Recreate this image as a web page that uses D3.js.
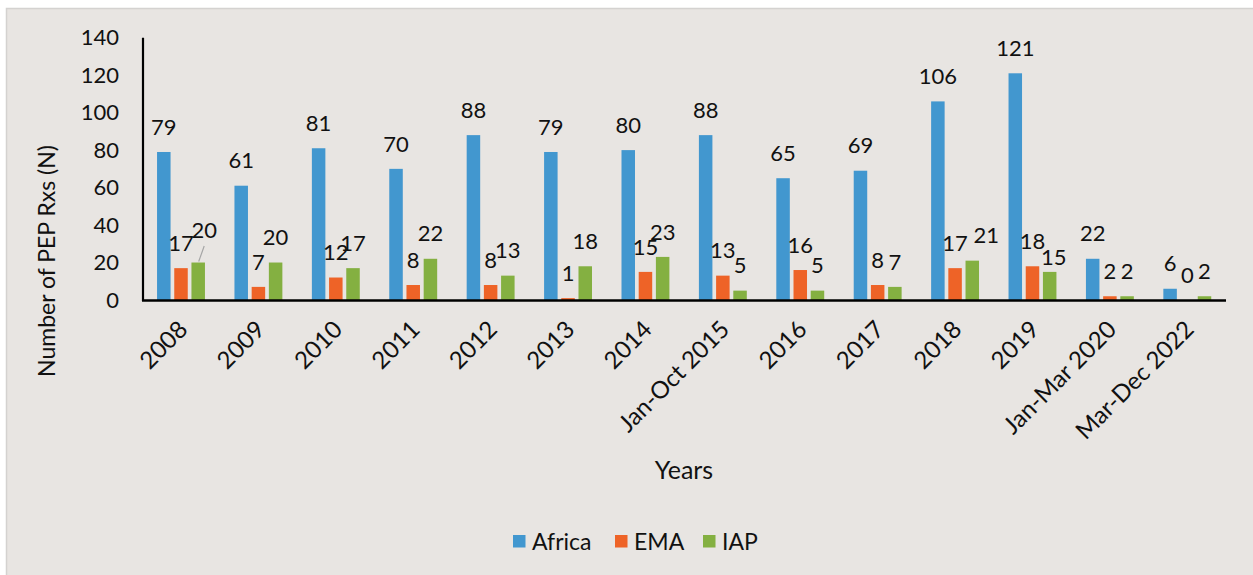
<!DOCTYPE html>
<html>
<head>
<meta charset="utf-8">
<script src="https://cdn.jsdelivr.net/npm/d3@7"></script>
<style>
  html, body { margin: 0; padding: 0; background: #ffffff; }
  svg { display: block; font-family: Lato, "Open Sans", sans-serif; }
</style>
</head>
<body>
<svg id="chart" width="1253" height="575"></svg>
<script>
// ---- data ----
const categories = ["2008","2009","2010","2011","2012","2013","2014","Jan-Oct 2015","2016","2017","2018","2019","Jan-Mar 2020","Mar-Dec 2022"];
const seriesNames = ["Africa","EMA","IAP"];
const africa = [79,61,81,70,88,79,80,88,65,69,106,121,22,6];
const ema    = [17,7,12,8,8,1,15,13,16,8,17,18,2,0];
const iap    = [20,20,17,22,13,18,23,5,5,7,21,15,2,2];
const yTicks = [0,20,40,60,80,100,120,140];
const colors = ["#4297CF","#EE6327","#84B041"];
const seriesValues = [africa, ema, iap];

// label nudges (Excel collision placement): [seriesIndex, categoryIndex, dx, dy, leader]
const labelNudges = [[2,0,6,-7.5,true],[2,10,14,0,false],[2,11,4,10,false]];

const svg = d3.select("#chart");

// chart frame
svg.append("rect").attr("x",6.5).attr("y",8.5).attr("width",1250).attr("height",570)
  .attr("fill","#E8E5E2").attr("stroke","#D4D2D0").attr("stroke-width",1.5);

const x = d3.scaleBand().domain(categories).range([142.3,1226]).paddingInner(0).paddingOuter(0);
const sub = d3.scaleBand().domain(seriesNames).range([-25.8,25.8]).paddingInner(0.215).paddingOuter(0.1075);
const y = d3.scaleLinear().domain([0,140]).range([300,37.7]);

const plot = svg.append("g");

// bars
seriesNames.forEach((s, si) => {
  plot.append("g").selectAll("rect").data(seriesValues[si]).join("rect")
    .attr("x",(d,i)=> x(categories[i]) + x.bandwidth()/2 + sub(s))
    .attr("y",d=> y(d))
    .attr("width",sub.bandwidth())
    .attr("height",d=> y(0)-y(d))
    .attr("fill",colors[si]);
});

// data labels
seriesNames.forEach((s, si) => {
  const g = plot.append("g");
  seriesValues[si].forEach((d,i) => {
    let cx = x(categories[i]) + x.bandwidth()/2 + sub(s) + sub.bandwidth()/2;
    let cy = y(d) - 25;
    const n = labelNudges.find(v => v[0]===si && v[1]===i);
    if (n) {
      if (n[4]) {
        g.append("line").attr("x1",cx+0.5).attr("y1",y(d)-1).attr("x2",cx+n[2]).attr("y2",cy+n[3]+16)
          .attr("stroke","#A6A6A6").attr("stroke-width",1.2);
      }
      cx += n[2]; cy += n[3];
    }
    g.append("text").attr("x",cx).attr("y",cy).attr("dy","0.35em")
      .attr("text-anchor","middle").attr("font-size",22).attr("fill","#111").text(d);
  });
});

// y axis
const yAxis = d3.axisLeft(y).tickValues(yTicks).tickSize(0).tickPadding(24);
const yg = svg.append("g").attr("transform","translate(143,0)").call(yAxis);
yg.select(".domain").remove();
yg.selectAll("text").attr("font-size",22).attr("fill","#111").attr("font-family","Lato, sans-serif");
svg.append("line").attr("x1",143).attr("x2",143).attr("y1",y(140)).attr("y2",y(0)+1)
  .attr("stroke","#000").attr("stroke-width",2.2);

// x axis
const xAxis = d3.axisBottom(x).tickSize(0).tickPadding(0);
const xg = svg.append("g").attr("transform","translate(0,300)").call(xAxis);
xg.select(".domain").remove();
xg.selectAll("text")
  .attr("font-size",24).attr("fill","#111").attr("font-family","Lato, sans-serif")
  .attr("text-anchor","end")
  .attr("dy",null).attr("y",0)
  .attr("transform","translate(8,31) rotate(-45)");
svg.append("line").attr("x1",142).attr("x2",1226).attr("y1",300.5).attr("y2",300.5)
  .attr("stroke","#000").attr("stroke-width",2.5);

// axis titles
svg.append("text").attr("transform","translate(55,261) rotate(-90)")
  .attr("text-anchor","middle").attr("font-size",23).attr("fill","#111").text("Number of PEP Rxs (N)");
svg.append("text").attr("x",684).attr("y",470).attr("dy","0.35em")
  .attr("text-anchor","middle").attr("font-size",25).attr("fill","#111").text("Years");

// legend
const legendX = [513,615,703];
const lg = svg.append("g");
seriesNames.forEach((s,si)=>{
  lg.append("rect").attr("x",legendX[si]).attr("y",535).attr("width",12.5).attr("height",12.5).attr("fill",colors[si]);
  lg.append("text").attr("x",legendX[si]+19).attr("y",541.5).attr("dy","0.35em")
    .attr("font-size",23).attr("fill","#111").text(s);
});
</script>
</body>
</html>
